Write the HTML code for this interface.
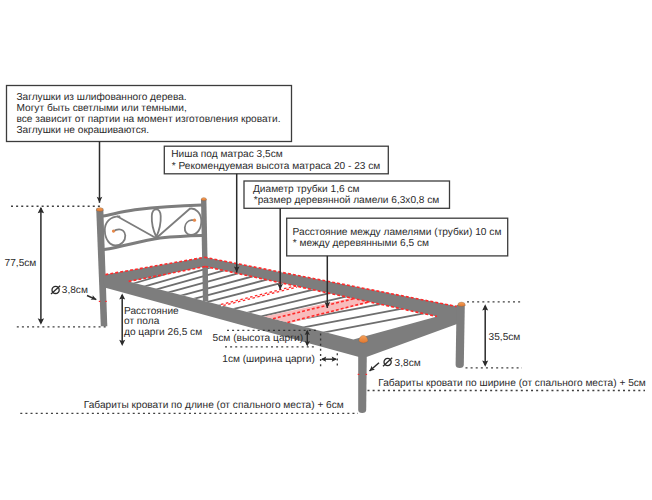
<!DOCTYPE html>
<html><head><meta charset="utf-8"><style>
html,body{margin:0;padding:0;background:#fff;}
svg{display:block;}
text{font-family:"Liberation Sans",sans-serif;font-size:10.15px;fill:#2a2a2a;text-rendering:geometricPrecision;}
</style></head><body>
<svg width="652" height="500" viewBox="0 0 652 500">
<rect width="652" height="500" fill="#fff"/>
<polygon points="96.20,208.50 103.30,208.50 107.30,326.30 100.80,326.30" fill="#7d7d7d"/>
<polygon points="201.00,199.50 206.40,199.50 208.30,301.00 202.90,301.00" fill="#7d7d7d"/>
<path d="M103,216 C112,214.5 122,211.5 135,209.8 C160,206.8 185,205.5 202,205" fill="none" stroke="#7d7d7d" stroke-linecap="round" stroke-width="3"/>
<path d="M104,249.6 C125,246 140,241 160,238 C175,236.5 190,235.8 202,235.5" fill="none" stroke="#7d7d7d" stroke-linecap="round" stroke-width="3"/>
<path d="M119.5,216.4 C110,216.3 104.6,222.5 104.8,230.5 C105,239.5 110,245.5 115.5,245.5 C121.5,245.5 125.5,240.5 125.3,235.5 C125,231 121.5,229.2 119,229.3 C116.5,229.4 114.5,230.5 113.6,231.2" fill="none" stroke="#7d7d7d" stroke-linecap="round" stroke-width="1.8"/>
<path d="M117.5,216.5 L155,237.5" fill="none" stroke="#7d7d7d" stroke-linecap="round" stroke-width="1.8"/>
<path d="M156.3,237 C153,230 151.5,222 151.8,216 C152,211.5 154,209.3 156.2,209.3 C158.5,209.3 160.5,211.5 160.7,216 C161,222 159.5,230 156.3,237 Z" fill="none" stroke="#7d7d7d" stroke-linecap="round" stroke-width="1.8"/>
<path d="M157.5,237 L189.8,208.7" fill="none" stroke="#7d7d7d" stroke-linecap="round" stroke-width="1.8"/>
<path d="M189.8,208.7 C195.5,207.5 201,213 201.3,220.5 C201.6,229 197,234.8 191,235 C186.5,235.1 184.5,231 184.8,227.5 C185.2,223 188.5,220.5 191.5,220.2 C192.8,220.1 193.8,220.2 194.4,220.3" fill="none" stroke="#7d7d7d" stroke-linecap="round" stroke-width="1.8"/>
<circle cx="113.5" cy="231.1" r="1.6" fill="#e8894a"/>
<circle cx="194.5" cy="220.2" r="1.6" fill="#e8894a"/>
<polygon points="103.00,275.00 204.60,257.30 459.50,306.80 463.50,322.00 456.30,324.30 367.20,356.80 359.00,357.00 104.50,287.60" fill="#7d7d7d"/>
<defs><linearGradient id="capg" x1="0" y1="0" x2="0" y2="1"><stop offset="0" stop-color="#f6a25a"/><stop offset="1" stop-color="#e0762e"/></linearGradient></defs>
<defs><clipPath id="slq"><polygon points="128.60,281.40 205.30,266.50 437.00,316.50 353.40,339.50"/></clipPath></defs>
<polygon points="128.60,281.40 205.30,266.50 437.00,316.50 353.40,339.50" fill="#fff"/>
<g clip-path="url(#slq)">
<line x1="129.24" y1="284.74" x2="203.04" y2="263.08" stroke="#6e6e6e" stroke-width="1.8"/>
<line x1="140.52" y1="287.63" x2="216.14" y2="265.94" stroke="#6e6e6e" stroke-width="1.8"/>
<line x1="152.14" y1="290.59" x2="229.63" y2="268.89" stroke="#6e6e6e" stroke-width="1.8"/>
<line x1="164.08" y1="293.65" x2="243.51" y2="271.91" stroke="#6e6e6e" stroke-width="1.8"/>
<line x1="176.35" y1="296.79" x2="257.76" y2="275.02" stroke="#6e6e6e" stroke-width="1.8"/>
<line x1="188.95" y1="300.02" x2="272.40" y2="278.21" stroke="#6e6e6e" stroke-width="1.8"/>
<line x1="201.88" y1="303.33" x2="287.42" y2="281.48" stroke="#6e6e6e" stroke-width="1.8"/>
<line x1="215.15" y1="306.73" x2="302.82" y2="284.84" stroke="#6e6e6e" stroke-width="1.8"/>
<line x1="228.74" y1="310.21" x2="318.61" y2="288.27" stroke="#6e6e6e" stroke-width="1.8"/>
<line x1="242.66" y1="313.78" x2="334.77" y2="291.79" stroke="#6e6e6e" stroke-width="1.8"/>
<line x1="256.92" y1="317.44" x2="351.32" y2="295.39" stroke="#6e6e6e" stroke-width="1.8"/>
<line x1="271.50" y1="321.18" x2="368.25" y2="299.07" stroke="#6e6e6e" stroke-width="1.8"/>
<line x1="280.11" y1="323.20" x2="385.89" y2="303.08" stroke="#6e6e6e" stroke-width="1.8"/>
<line x1="299.61" y1="328.24" x2="407.49" y2="307.74" stroke="#6e6e6e" stroke-width="1.8"/>
<line x1="319.10" y1="333.28" x2="429.20" y2="312.43" stroke="#6e6e6e" stroke-width="1.8"/>
</g>
<polygon points="202.30,262.00 207.80,262.00 208.30,301.00 202.90,301.00" fill="#7d7d7d"/>
<polygon points="264.00,316.39 351.00,297.94 371.00,302.26 290.00,323.11" fill="#f8bcbc"/>
<line x1="273.00" y1="318.72" x2="354.00" y2="298.59" stroke="#ff2a2a" stroke-width="1.6" stroke-dasharray="2.9 2.1" stroke-dashoffset="0"/>
<line x1="287.40" y1="322.44" x2="369.10" y2="301.85" stroke="#ff2a2a" stroke-width="1.6" stroke-dasharray="2.9 2.1" stroke-dashoffset="0"/>
<line x1="220.97" y1="305.27" x2="297.00" y2="286.29" stroke="#fff" stroke-width="2.6"/>
<line x1="220.97" y1="304.47" x2="297.00" y2="285.49" stroke="#ff2a2a" stroke-width="1.3" stroke-dasharray="2.5 2.5" stroke-dashoffset="0"/>
<line x1="220.97" y1="306.07" x2="297.00" y2="287.09" stroke="#ff2a2a" stroke-width="1.3" stroke-dasharray="2.5 2.5" stroke-dashoffset="2.5"/>
<line x1="105.40" y1="274.60" x2="204.60" y2="257.30" stroke="#ff2a2a" stroke-width="1.6" stroke-dasharray="2.9 2.1" stroke-dashoffset="0"/>
<line x1="204.60" y1="257.30" x2="458.40" y2="306.80" stroke="#ff2a2a" stroke-width="1.6" stroke-dasharray="2.9 2.1" stroke-dashoffset="0"/>
<line x1="128.60" y1="281.40" x2="205.30" y2="266.50" stroke="#ff2a2a" stroke-width="1.6" stroke-dasharray="2.9 2.1" stroke-dashoffset="0"/>
<line x1="205.30" y1="266.50" x2="437.00" y2="316.50" stroke="#ff2a2a" stroke-width="1.6" stroke-dasharray="2.9 2.1" stroke-dashoffset="0"/>
<path d="M358.2,355 L366.8,355 L366.2,410 Q366,413 362.2,413 Q358.3,413 358.2,410 Z" fill="#7d7d7d"/>
<path d="M456.6,305 L464.8,305 L463.8,365 Q463.6,368 459.7,368 Q455.8,368 455.6,365 Z" fill="#7d7d7d"/>
<rect x="98.8" y="300.79999999999995" width="1.6" height="1.2" fill="#ff2a2a"/>
<rect x="105.2" y="300.79999999999995" width="1.6" height="1.2" fill="#ff2a2a"/>
<rect x="357.7" y="373.79999999999995" width="1.6" height="1.2" fill="#ff2a2a"/>
<rect x="365.5" y="373.79999999999995" width="1.6" height="1.2" fill="#ff2a2a"/>
<path d="M96.3,210.5 A3.5,3 0 0 1 103.3,210.5 Q99.8,212.3 96.3,210.5 Z" fill="url(#capg)" stroke="#555" stroke-width="0.4" stroke-opacity="0.6"/>
<path d="M201.0,200 A2.8,2.5 0 0 1 206.60000000000002,200 Q203.8,201.5 201.0,200 Z" fill="url(#capg)" stroke="#555" stroke-width="0.4" stroke-opacity="0.6"/>
<path d="M358.79999999999995,341.3 A4.6,6 0 0 1 368.0,341.3 Q363.4,344.90000000000003 358.79999999999995,341.3 Z" fill="url(#capg)" stroke="#555" stroke-width="0.4" stroke-opacity="0.6"/>
<path d="M457.6,305.5 A3.9,3.5 0 0 1 465.4,305.5 Q461.5,307.6 457.6,305.5 Z" fill="url(#capg)" stroke="#555" stroke-width="0.4" stroke-opacity="0.6"/>
<rect x="6.5" y="85.5" width="285.0" height="56.0" fill="#fff" stroke="#3c3c3c" stroke-width="1.3"/>
<text x="16.5" y="100.00">Заглушки из шлифованного дерева.</text>
<text x="16.5" y="110.90">Могут быть светлыми или темными,</text>
<text x="16.5" y="121.80" textLength="264" lengthAdjust="spacingAndGlyphs">все зависит от партии на момент изготовления кровати.</text>
<text x="16.5" y="132.70">Заглушки не окрашиваются.</text>
<line x1="99.5" y1="141.5" x2="99.5" y2="202.8" stroke="#2b2b2b" stroke-width="1.5"/>
<polygon points="99.50,202.80 96.70,196.80 99.50,197.88 102.30,196.80" fill="#2b2b2b"/>
<rect x="164.3" y="146.2" width="224.0" height="27.600000000000023" fill="#fff" stroke="#3c3c3c" stroke-width="1.3"/>
<text x="171.3" y="157.20">Ниша под матрас 3,5см</text>
<text x="171.8" y="168.50" textLength="208.5" lengthAdjust="spacingAndGlyphs">* Рекомендуемая высота матраса 20 - 23 см</text>
<line x1="236.7" y1="173.8" x2="236.7" y2="272.5" stroke="#2b2b2b" stroke-width="1.5"/>
<polygon points="236.70,272.50 233.90,266.50 236.70,267.58 239.50,266.50" fill="#2b2b2b"/>
<rect x="244" y="181" width="205.5" height="27.30000000000001" fill="#fff" stroke="#3c3c3c" stroke-width="1.3"/>
<text x="253" y="191.80">Диаметр трубки 1,6 см</text>
<text x="253.8" y="202.80" textLength="185.5" lengthAdjust="spacingAndGlyphs">*размер деревянной ламели 6,3х0,8 см</text>
<line x1="280.2" y1="208.3" x2="280.2" y2="289.8" stroke="#2b2b2b" stroke-width="1.5"/>
<polygon points="280.20,289.80 277.40,283.80 280.20,284.88 283.00,283.80" fill="#2b2b2b"/>
<rect x="286.7" y="218.2" width="221.0" height="37.70000000000002" fill="#fff" stroke="#3c3c3c" stroke-width="1.3"/>
<text x="292.6" y="234.70" textLength="208.8" lengthAdjust="spacingAndGlyphs">Расстояние между ламелями (трубки) 10 см</text>
<text x="292.8" y="245.50">* между деревянными 6,5 см</text>
<line x1="327.3" y1="255.9" x2="327.3" y2="308" stroke="#2b2b2b" stroke-width="1.5"/>
<polygon points="327.30,308.00 324.50,302.00 327.30,303.08 330.10,302.00" fill="#2b2b2b"/>
<line x1="11.0" y1="206.2" x2="101" y2="206.2" stroke="#2b2b2b" stroke-width="1.35" stroke-dasharray="2 3.11" stroke-opacity="0.9"/>
<line x1="16.8" y1="326.8" x2="106" y2="326.8" stroke="#2b2b2b" stroke-width="1.35" stroke-dasharray="2 3.11" stroke-opacity="0.9"/>
<line x1="40.9" y1="208" x2="40.9" y2="323" stroke="#2b2b2b" stroke-width="1.5"/>
<polygon points="40.90,206.80 44.10,213.30 40.90,212.13 37.70,213.30" fill="#2b2b2b"/>
<polygon points="40.90,324.80 37.70,318.30 40.90,319.47 44.10,318.30" fill="#2b2b2b"/>
<text x="4.6" y="265.50">77,5см</text>
<g transform="translate(55.6,289.9)"><circle r="3.6" fill="none" stroke="#2a2a2a" stroke-width="1.3"/><line x1="-4.6" y1="4.2" x2="4.6" y2="-4.2" stroke="#2a2a2a" stroke-width="1.3"/></g>
<text x="61.8" y="292.70">3,8см</text>
<line x1="87" y1="295.5" x2="96.3" y2="299.6" stroke="#2b2b2b" stroke-width="1.5"/>
<polygon points="96.30,299.60 90.72,299.87 92.55,297.95 92.73,295.30" fill="#2b2b2b"/>
<line x1="122.2" y1="295" x2="122.2" y2="344" stroke="#2b2b2b" stroke-width="1.5"/>
<polygon points="122.20,293.40 125.20,299.60 122.20,298.48 119.20,299.60" fill="#2b2b2b"/>
<polygon points="122.20,346.00 119.20,339.80 122.20,340.92 125.20,339.80" fill="#2b2b2b"/>
<text x="124" y="313.50">Расстояние</text>
<text x="124" y="324.40">от пола</text>
<text x="124" y="335.40">до царги 26,5 см</text>
<line x1="227" y1="330.3" x2="316" y2="330.3" stroke="#2b2b2b" stroke-width="1.35" stroke-dasharray="2 3.11" stroke-opacity="0.9"/>
<line x1="225" y1="346.8" x2="315" y2="346.8" stroke="#2b2b2b" stroke-width="1.35" stroke-dasharray="2 3.11" stroke-opacity="0.9"/>
<polygon points="307.30,329.70 309.90,335.00 307.30,334.05 304.70,335.00" fill="#2b2b2b"/>
<polygon points="307.30,346.40 304.70,341.10 307.30,342.05 309.90,341.10" fill="#2b2b2b"/>
<line x1="307.3" y1="331" x2="307.3" y2="345" stroke="#2b2b2b" stroke-width="1.4"/>
<text x="212.6" y="341.40" textLength="90.5" lengthAdjust="spacingAndGlyphs">5см (высота царги)</text>
<line x1="320.6" y1="333.5" x2="320.6" y2="366.5" stroke="#2b2b2b" stroke-width="1.35" stroke-dasharray="2 3.11" stroke-opacity="0.9"/>
<line x1="337.3" y1="353.3" x2="337.3" y2="366" stroke="#2b2b2b" stroke-width="1.35" stroke-dasharray="2 3.11" stroke-opacity="0.9"/>
<polygon points="320.90,359.20 326.20,356.60 325.25,359.20 326.20,361.80" fill="#2b2b2b"/>
<polygon points="337.00,359.20 331.70,361.80 332.65,359.20 331.70,356.60" fill="#2b2b2b"/>
<line x1="322" y1="359.2" x2="336" y2="359.2" stroke="#2b2b2b" stroke-width="1.4"/>
<text x="222.3" y="362.20" textLength="92.6" lengthAdjust="spacingAndGlyphs">1см (ширина царги)</text>
<line x1="467" y1="301.8" x2="522" y2="301.8" stroke="#2b2b2b" stroke-width="1.35" stroke-dasharray="2 3.11" stroke-opacity="0.9"/>
<line x1="465.5" y1="367.9" x2="522" y2="367.9" stroke="#2b2b2b" stroke-width="1.35" stroke-dasharray="2 3.11" stroke-opacity="0.9"/>
<line x1="485.2" y1="306" x2="485.2" y2="365" stroke="#2b2b2b" stroke-width="1.5"/>
<polygon points="485.20,304.30 488.20,310.50 485.20,309.38 482.20,310.50" fill="#2b2b2b"/>
<polygon points="485.20,366.70 482.20,360.50 485.20,361.62 488.20,360.50" fill="#2b2b2b"/>
<text x="488.6" y="339.70">35,5см</text>
<g transform="translate(387.6,362)"><circle r="3.6" fill="none" stroke="#2a2a2a" stroke-width="1.3"/><line x1="-4.6" y1="4.2" x2="4.6" y2="-4.2" stroke="#2a2a2a" stroke-width="1.3"/></g>
<text x="394.6" y="365.50">3,8см</text>
<line x1="379" y1="362.8" x2="369.5" y2="371" stroke="#2b2b2b" stroke-width="1.5"/>
<polygon points="369.50,371.00 371.65,365.84 372.60,368.32 374.92,369.63" fill="#2b2b2b"/>
<text x="378.3" y="386.40" textLength="267.5" lengthAdjust="spacingAndGlyphs">Габариты кровати по ширине (от спального места) + 5см</text>
<line x1="367.5" y1="390.5" x2="645" y2="390.5" stroke="#2b2b2b" stroke-width="1.35" stroke-dasharray="2 3.11" stroke-opacity="0.9"/>
<text x="83.8" y="407.90" textLength="260" lengthAdjust="spacingAndGlyphs">Габариты кровати по длине (от спального места) + 6см</text>
<line x1="20.3" y1="413.4" x2="358" y2="413.4" stroke="#2b2b2b" stroke-width="1.35" stroke-dasharray="2 3.11" stroke-opacity="0.9"/>
</svg></body></html>
